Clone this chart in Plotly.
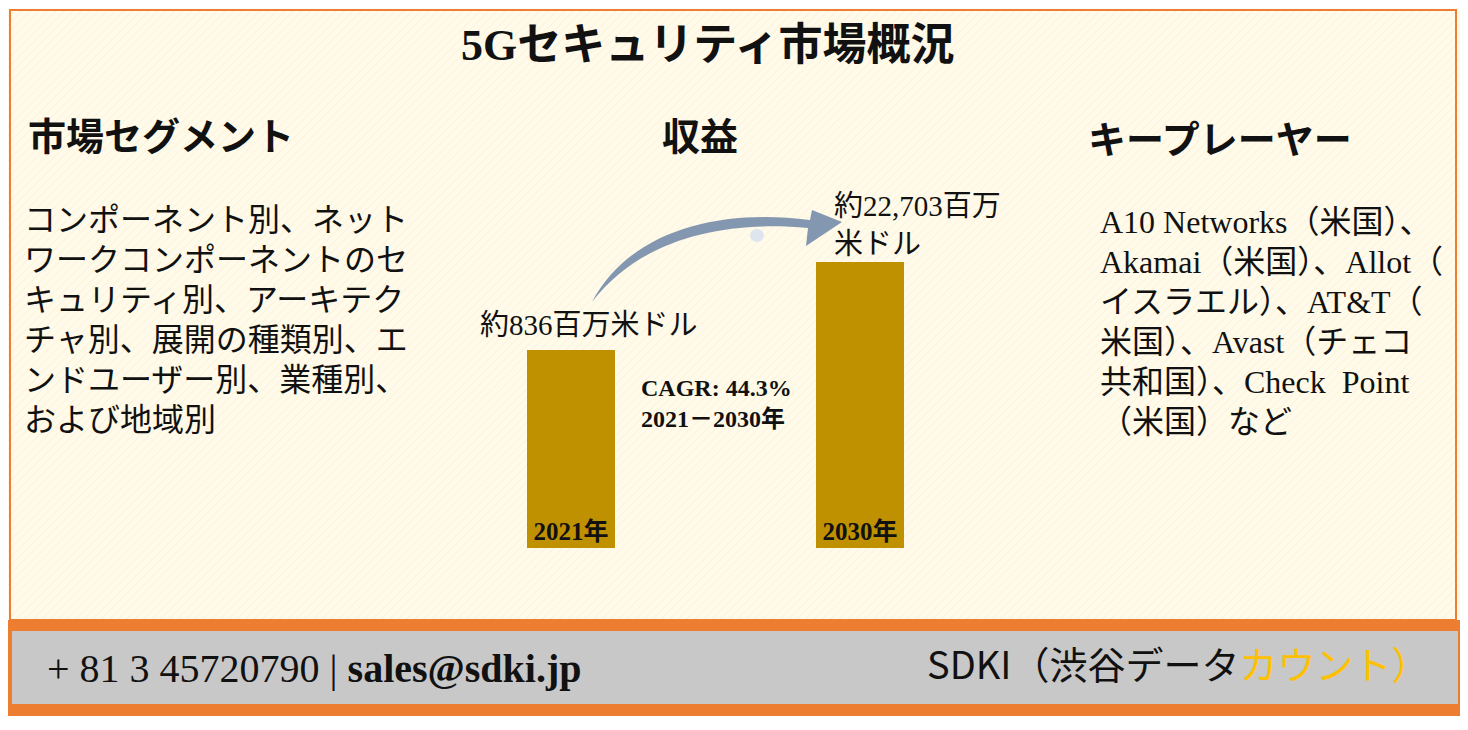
import plotly.graph_objects as go

W, H = 1468, 730
SERIF = "Liberation Serif, Noto Sans CJK JP"
SANS = "Noto Sans CJK JP"

title = "5Gセキュリティ市場概況"
headers = ["市場セグメント", "収益", "キープレーヤー"]
segment_lines = ["コンポーネント別、ネット", "ワークコンポーネントのセ", "キュリティ別、アーキテク",
                 "チャ別、展開の種類別、エ", "ンドユーザー別、業種別、", "および地域別"]
player_lines = ["A10 Networks（米国）、", "Akamai（米国）、Allot（", "イスラエル）、AT&T（",
                "米国）、Avast（チェコ", "共和国）、Check  Point", "（米国）など"]
years = ["2021年", "2030年"]
revenue_labels = ["約836百万米ドル", "約22,703百万<br>米ドル"]
bar_display = [198, 286]   # visual heights of the infographic bars (not to scale)
cagr = "CAGR: 44.3%<br>2021－2030年"
phone, email = "+ 81 3 45720790", "sales@sdki.jp"

fig = go.Figure()
# hatched background
fig.add_trace(go.Bar(x=[W / 2], y=[-610], base=[619], width=[W - 10],
                     marker=dict(color="#fffaea", line=dict(width=0),
                                 pattern=dict(shape="/", fgcolor="#f3e6b8", size=6, solidity=0.15)),
                     hoverinfo="skip", showlegend=False))
# revenue bars
bx = [571, 860]
fig.add_trace(go.Bar(x=bx, y=[-h for h in bar_display], base=[548, 548], width=[88, 88],
                     marker=dict(color="#bf9000", line=dict(width=0)),
                     text=[f"<b>{y}</b>" for y in years], textposition="inside", insidetextanchor="start",
                     textfont=dict(family=SERIF, size=25, color="#111"),
                     hoverinfo="skip", showlegend=False))

shapes = [
    dict(type="rect", xref="x", yref="y", x0=10, y0=10, x1=1456, y1=620, line=dict(color="#ed7d31", width=2)),
    dict(type="rect", xref="x", yref="y", x0=8, y0=620, x1=1462, y1=716, fillcolor="#ed7d31", line=dict(width=0)),
    dict(type="rect", xref="x", yref="y", x0=12, y0=631, x1=1458, y1=704, fillcolor="#c8c8c8", line=dict(width=0)),
    dict(type="path", xref="x", yref="y",
         path="M 592,302 C 640,240 720,220 808,228 L 806,246 L 842,222 L 812,210 L 810,220 C 720,208 630,230 592,302 Z",
         fillcolor="#8497b0", line=dict(width=0)),
    dict(type="circle", xref="x", yref="y", x0=750, y0=229, x1=764, y1=242, fillcolor="#dfe5ee", line=dict(width=0)),
]

ann = []
def t(x, y, s, size, xa="left", bold=False, fam=SERIF, color="#111"):
    ann.append(dict(x=x, y=y, xref="x", yref="y", text=f"<b>{s}</b>" if bold else s, showarrow=False,
                    xanchor=xa, yanchor="middle", font=dict(family=fam, size=size, color=color), align="left"))

t(708, 45, title, 44, "center", True)
t(26, 137, headers[0], 38, bold=True)
t(700, 137, headers[1], 38, "center", True)
t(1086, 140, headers[2], 38, bold=True)
for i, s in enumerate(segment_lines):
    t(22, 220 + 40 * i, s, 32)
for i, s in enumerate(player_lines):
    t(1098, 222 + 40 * i, s, 32)
t(478, 325, revenue_labels[0], 29)
t(832, 225, revenue_labels[1], 29)
t(716, 403, cagr, 24, "center", True)
t(45, 668, f"{phone} | <b>{email}</b>", 40)
t(1432, 662, "SDKI（渋谷データ<span style='color:#ffc000'>カウント）</span>", 38, "right", fam=SANS)

fig.update_layout(
    width=W, height=H, margin=dict(l=0, r=0, t=0, b=0),
    paper_bgcolor="white", plot_bgcolor="white", bargap=0, barmode="overlay",
    xaxis=dict(range=[8, W + 8], visible=False, fixedrange=True),
    yaxis=dict(range=[H + 8, 8], visible=False, fixedrange=True),
    shapes=shapes, annotations=ann,
)
fig.write_html("out.html")
